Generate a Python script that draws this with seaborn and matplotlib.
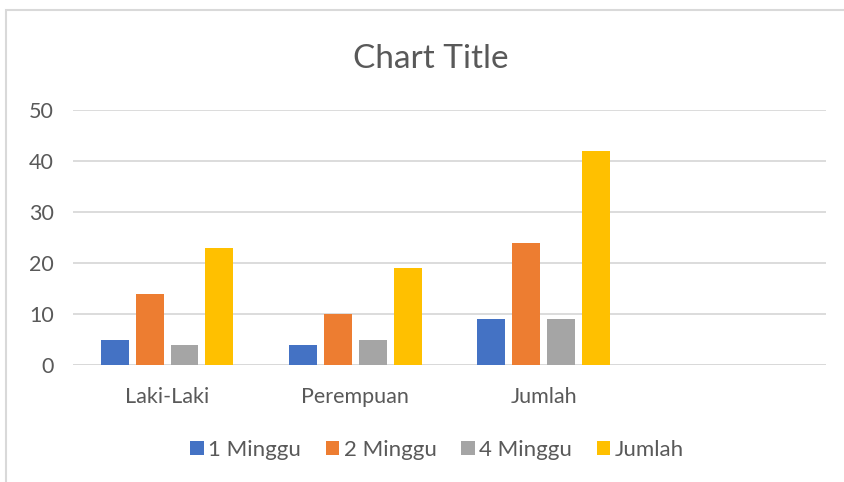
import matplotlib
matplotlib.use("Agg")
import matplotlib.pyplot as plt
from matplotlib.patches import Rectangle
import pandas as pd
import seaborn as sns

# ── Data ──────────────────────────────────────────────────────────────────────
categories = ["Laki-Laki", "Perempuan", "Jumlah"]
series = ["1 Minggu", "2 Minggu", "4 Minggu", "Jumlah"]
minggu_1 = [5, 4, 9]
minggu_2 = [14, 10, 24]
minggu_4 = [4, 5, 9]
jumlah = [23, 19, 42]
y_ticks = [0, 10, 20, 30, 40, 50]

colours = ["#4472C4", "#ED7D31", "#A5A5A5", "#FFC000"]
text_grey = "#595959"
grid_grey = "#D9D9D9"

rows = []
for name, vals in zip(series, [minggu_1, minggu_2, minggu_4, jumlah]):
    for cat, v in zip(categories, vals):
        rows.append({"kategori": cat, "seri": name, "nilai": v})
df = pd.DataFrame(rows)

# ── Plot ──────────────────────────────────────────────────────────────────────
sns.set_theme(style="white")
plt.rcParams["font.family"] = ["Lato", "DejaVu Sans"]

fig = plt.figure(figsize=(8.44, 4.82), dpi=100)
ax = fig.add_axes([73 / 844, 1 - 365 / 482, (826 - 73) / 844, (365 - 110) / 482])

sns.barplot(data=df, x="kategori", y="nilai", hue="seri", order=categories,
            hue_order=series, palette=colours, saturation=1, width=0.74, gap=0.2,
            linewidth=0, ax=ax)

ax.set_xlim(-0.5, 3.5)
ax.set_ylim(0, 50)
ax.set_yticks(y_ticks)
ax.yaxis.grid(True, color=grid_grey, linewidth=1.3)
ax.set_axisbelow(True)
for side in ["top", "right", "left", "bottom"]:
    ax.spines[side].set_visible(False)
ax.axhline(0, color=grid_grey, linewidth=1.3, zorder=0.5)
ax.set_xlabel("")
ax.set_ylabel("")
ax.tick_params(axis="both", length=0, labelsize=15.5, labelcolor=text_grey)
ax.tick_params(axis="y", pad=14)
ax.tick_params(axis="x", pad=16)

handles, labels = ax.get_legend_handles_labels()
ax.get_legend().remove()
fig.legend(handles, labels, loc="center", bbox_to_anchor=(437 / 844, 1 - 450 / 482),
           ncol=4, frameon=False, fontsize=16, labelcolor=text_grey,
           handlelength=0.62, handleheight=0.62, handletextpad=0.2, columnspacing=1.1)

fig.text(431 / 844, 1 - 59 / 482, "Chart Title", ha="center", va="center",
         fontsize=24, color=text_grey)

# light chart border (Excel chart area)
fig.patches.append(Rectangle((6 / 844, -0.1), 1.2, 1 - 10 / 482 + 0.1,
                             transform=fig.transFigure, fill=False,
                             edgecolor=grid_grey, linewidth=1.5))

fig.savefig("out.png", dpi=100)
plt.close(fig)
